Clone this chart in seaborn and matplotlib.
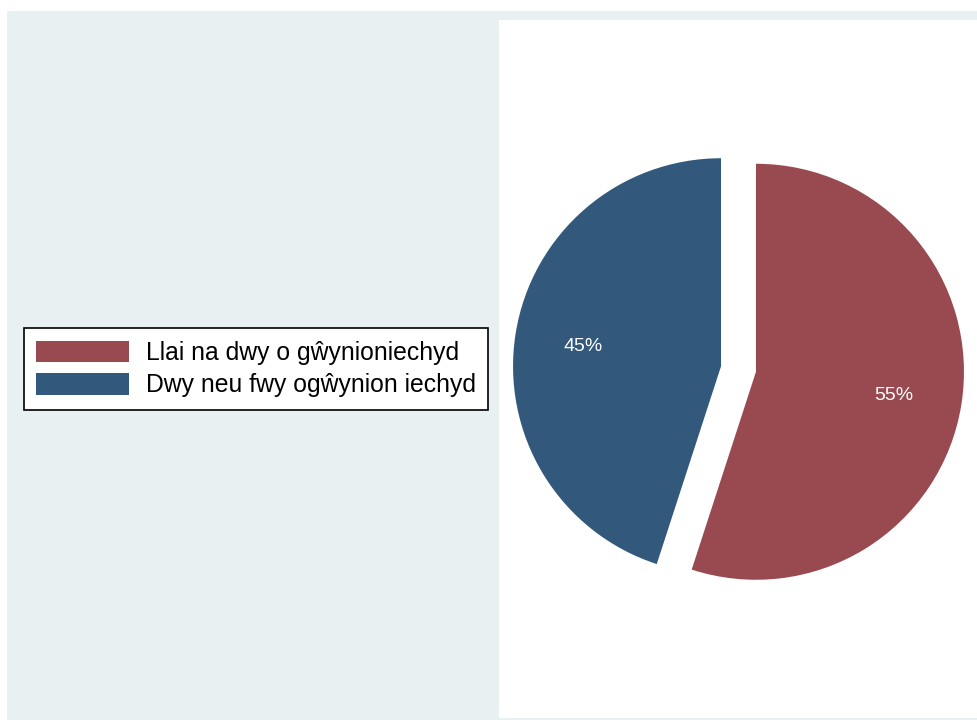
import matplotlib
matplotlib.use("Agg")
import matplotlib.pyplot as plt
from matplotlib.patches import Rectangle
import seaborn as sns

# data
categories = ["Llai na dwy o gŵynioniechyd", "Dwy neu fwy ogŵynion iechyd"]
shares = [55, 45]
slice_colors = ["#984A50", "#32587C"]

sns.set_style("white")
plt.rcParams["font.family"] = ["Liberation Sans", "DejaVu Sans"]

W, H = 978, 720
fig = plt.figure(figsize=(W / 100, H / 100), dpi=100, facecolor="white")

# light outer panel
fig.patches.append(Rectangle((7 / W, 0), (977 - 7) / W, 1 - 11 / H,
                             transform=fig.transFigure, facecolor="#E8F0F2",
                             edgecolor="none", zorder=-5))

# white plot region on the right
left, right, top, bottom = 499, 978, 20, 718
ax = fig.add_axes([left / W, 1 - bottom / H, (right - left) / W, (bottom - top) / H])

r_px = 208
wedges, texts, autotexts = ax.pie(
    shares,
    colors=slice_colors,
    startangle=90,
    counterclock=False,
    explode=[0.085, 0.085],
    autopct="%.0f%%",
    pctdistance=0.67,
    textprops={"color": "white", "fontsize": 14},
    wedgeprops={"linewidth": 0},
)
ax.set_frame_on(True)
ax.patch.set_facecolor("white")
for s in ax.spines.values():
    s.set_visible(False)
ax.set_xticks([])
ax.set_yticks([])
ax.set_xlim(-(right - left) / 2 / r_px, (right - left) / 2 / r_px)
ax.set_ylim(-(bottom - top) / 2 / r_px, (bottom - top) / 2 / r_px)
ax.set_aspect("auto")
for t in autotexts:
    t.set_va("center_baseline")

leg = fig.legend(
    wedges, categories,
    loc="center left",
    bbox_to_anchor=(24 / W, 1 - 369 / H),
    borderaxespad=0,
    fontsize=17.8,
    handlelength=3.75,
    handleheight=0.98,
    handletextpad=0.69,
    labelspacing=0.32,
    borderpad=0.5,
    fancybox=False,
    frameon=True,
    edgecolor="black",
    framealpha=1,
)
leg.get_frame().set_linewidth(1.2)
for t in leg.get_texts():
    t.set_color("black")

fig.savefig("out.png", dpi=100, facecolor="white")
